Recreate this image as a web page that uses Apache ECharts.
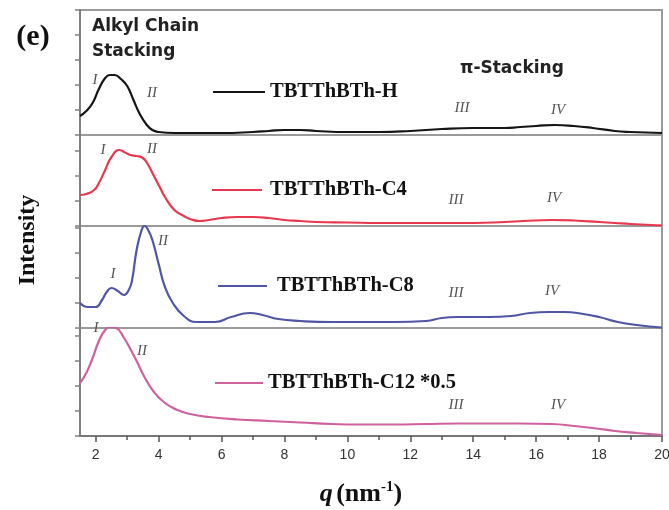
<!DOCTYPE html>
<html><head><meta charset="utf-8">
<script src="https://cdn.jsdelivr.net/npm/echarts@6/dist/echarts.min.js"></script>
<style>html,body{margin:0;padding:0;background:#fff}#c{width:669px;height:510px}</style>
</head><body><div id="c"></div>
<script>
// ---- data ----
const xTickLabels = [2, 4, 6, 8, 10, 12, 14, 16, 18, 20];
const xMinorTicks = [3, 5, 7, 9, 11, 13, 15, 17, 19];
const seriesNames = ['TBTThBTh-H', 'TBTThBTh-C4', 'TBTThBTh-C8', 'TBTThBTh-C12 *0.5'];
const peakLabels = ['I', 'II', 'III', 'IV'];

// q (nm^-1), intensity (a.u., per panel)
const tbtH = [[1.5,19],[1.7,24],[1.9,32],[2.1,46],[2.3,57],[2.45,60],[2.6,60],[2.8,56],[3.0,49],[3.2,35],[3.4,21],[3.6,11],[3.8,5],[4.0,3],[4.5,2],[5,2],[6,2],[7,3],[7.5,4],[8,5],[8.5,5],[9,4],[10,3],[11,3],[12,4],[13,6],[14,7],[15,7],[15.5,8],[16,9],[16.6,10],[17.2,9],[17.8,7],[18.5,4],[19,3],[20,2]];
const tbtC4 = [[1.5,31],[1.7,32],[1.95,36],[2.1,43],[2.3,56],[2.5,69],[2.75,76],[2.9,74],[3.1,71],[3.3,70],[3.5,68],[3.65,62],[3.85,50],[4.05,38],[4.2,29],[4.5,16],[4.8,10],[5.0,7],[5.3,5],[5.6,6],[6,8],[6.5,9],[7,9],[7.5,8],[8,6],[8.5,5],[9,4],[10,3.5],[11,3],[12,3],[13,3],[14,3],[15,4],[15.6,5],[16.5,6],[17.2,5.5],[18,4],[18.5,3],[19,2],[20,0.5]];
const tbtC8 = [[1.5,25],[1.75,21],[2.0,21],[2.2,28],[2.35,36],[2.5,40],[2.7,37],[2.9,33],[3.05,38],[3.15,47],[3.3,78],[3.45,97],[3.55,102],[3.65,99],[3.8,88],[4.0,64],[4.2,41],[4.45,25],[4.8,12],[5.2,6],[5.8,6],[6.3,11],[6.9,15],[7.3,13],[7.8,9],[8.5,7],[9.5,6],[10.5,6],[11.5,6],[12.5,7],[13,10],[13.5,11],[14.5,11],[15.2,12],[15.8,15],[16.4,16],[16.9,16],[17.5,14],[18,11],[18.6,6],[19.2,3],[20,0.5]];
const tbtC12 = [[1.5,53],[1.7,63],[1.9,78],[2.1,95],[2.3,106],[2.45,109],[2.65,108],[2.9,98],[3.1,87],[3.3,75],[3.55,59],[3.85,44],[4.2,33],[4.6,26],[5.0,22],[5.6,19],[6.5,16.5],[7.5,15],[8.5,13.5],[9.5,12],[10.5,11.5],[11.5,11.5],[12.5,12],[13.5,12.5],[14.5,12.5],[15.5,12.5],[16.5,12],[17.2,10],[17.8,8],[18.5,5],[19.2,3],[20,1]];
const allData = [tbtH, tbtC4, tbtC8, tbtC12];

// ---- layout / style ----
const colors = ['#151515', '#e8384f', '#4f56a3', '#d0619f'];
const panels = [{top:10,h:125},{top:135,h:91},{top:226,h:102},{top:328,h:108}];
const L = 80, R = 7;

const grids = panels.map(p => ({left:L, right:R, top:p.top, height:p.h, outerBoundsMode:'none', containLabel:false,
  show:true, borderColor:'#9a9a9a', borderWidth:2, backgroundColor:'transparent'}));
const xAxes = panels.map((p, i) => {
  const last = i === panels.length - 1;
  return {
    type:'value', gridIndex:i, min:1.5, max:20, position:'bottom',
    axisLine:{show:last, lineStyle:{color:'#777', width:2}},
    splitLine:{show:false},
    axisTick:{show:last, customValues:xTickLabels, length:6, lineStyle:{color:'#555', width:1.5}},
    axisLabel:{show:last, customValues:xTickLabels, fontFamily:'Liberation Sans', fontSize:14, color:'#333', margin:12}
  };
});
xAxes.push({type:'value', gridIndex:3, min:1.5, max:20, position:'bottom', offset:0,
  axisLine:{show:false}, splitLine:{show:false},
  axisTick:{show:true, customValues:xMinorTicks, length:4, lineStyle:{color:'#555', width:1.5}}, axisLabel:{show:false}});
const yAxes = panels.map((p, i) => ({
  type:'value', gridIndex:i, min:0, max:p.h, interval:25,
  axisLine:{show:true, lineStyle:{color:'#808080', width:2}},
  axisTick:{show:true, length:5, lineStyle:{color:'#808080', width:1.5}},
  axisLabel:{show:false}, splitLine:{show:false}
}));
const series = allData.map((d, i) => ({
  type:'line', name:seriesNames[i], xAxisIndex:i, yAxisIndex:i, data:d,
  showSymbol:false, smooth:0.5,
  lineStyle:{color:colors[i], width:2.2}, itemStyle:{color:colors[i]}
}));

const roman = (txt, x, y) => ({type:'text', x:x, y:y, style:{text:txt, fill:'#555', font:'italic 15px "Liberation Serif"', align:'center', verticalAlign:'middle'}});
const legendPos = [{x1:213,x2:265,y:92,tx:270},{x1:212,x2:262,y:190,tx:270},{x1:218,x2:267,y:286,tx:277},{x1:215,x2:263,y:383,tx:268}];
const graphics = [];
legendPos.forEach((g, i) => {
  graphics.push({type:'line', shape:{x1:g.x1, y1:g.y, x2:g.x2, y2:g.y}, style:{stroke:colors[i], lineWidth:2.2}});
  graphics.push({type:'text', x:g.tx, y:g.y, style:{text:seriesNames[i], fill:'#111', font:'bold 20.5px "Liberation Serif"', verticalAlign:'middle'}});
});
const romanPos = [
  [[95,80],[152,93],[462,108],[558,110]],
  [[103,150],[152,149],[456,200],[554,198]],
  [[113,274],[163,241],[456,293],[552,291]],
  [[96,328],[142,351],[456,405],[558,405]]
];
romanPos.forEach(row => row.forEach((p, j) => graphics.push(roman(peakLabels[j], p[0], p[1]))));
graphics.push({type:'text', x:33, y:37, style:{text:'(e)', fill:'#111', font:'bold 30px "Liberation Serif"', align:'center', verticalAlign:'middle'}});
graphics.push({type:'text', x:92, y:27, style:{text:'Alkyl Chain', fill:'#222', font:'bold 17px "DejaVu Sans"', verticalAlign:'middle'}});
graphics.push({type:'text', x:92, y:52, style:{text:'Stacking', fill:'#222', font:'bold 17px "DejaVu Sans"', verticalAlign:'middle'}});
graphics.push({type:'text', x:460, y:69, style:{text:'π-Stacking', fill:'#222', font:'bold 17px "DejaVu Sans"', verticalAlign:'middle'}});
graphics.push({type:'text', x:28, y:240, rotation:Math.PI/2, style:{text:'Intensity', fill:'#111', font:'bold 24px "Liberation Serif"', align:'center', verticalAlign:'middle'}});
graphics.push({type:'text', x:361, y:494, style:{
  text:'{q|q} {n|(nm}{s|-1}{n|)}', align:'center', verticalAlign:'middle',
  rich:{q:{font:'italic bold 26px "Liberation Serif"', fill:'#111'}, n:{font:'bold 26px "Liberation Serif"', fill:'#111'}, s:{font:'bold 15px "Liberation Serif"', fill:'#111', padding:[0,0,13,0]}}
}});

const chart = echarts.init(document.getElementById('c'), null, {renderer:'canvas'});
chart.setOption({
  animation:false, backgroundColor:'#fff',
  grid:grids, xAxis:xAxes, yAxis:yAxes, series:series, graphic:graphics
});
</script></body></html>
